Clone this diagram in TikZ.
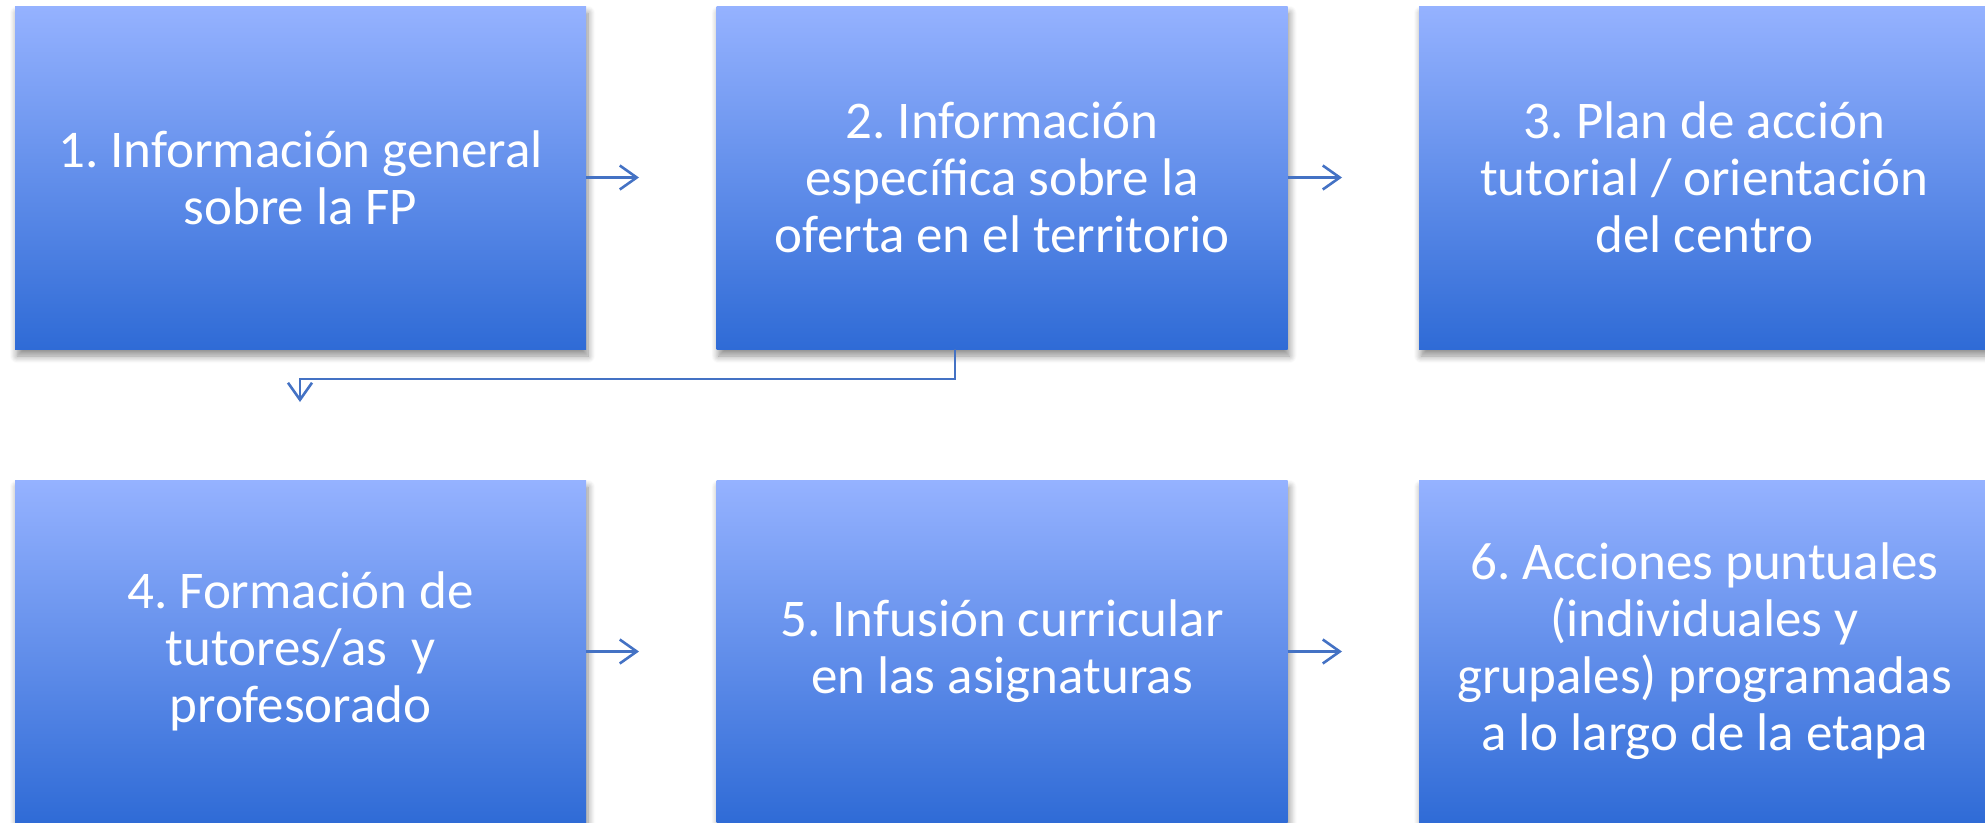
\documentclass[tikz,border=0pt]{standalone}
\usepackage{fontspec}
\setmainfont{Carlito}
\usetikzlibrary{arrows.meta,shadows.blur,calc}
\definecolor{topc}{RGB}{149,178,255}
\definecolor{midc}{RGB}{124,158,241}
\definecolor{botc}{RGB}{47,107,214}
\definecolor{arrc}{RGB}{68,114,196}
\tikzset{
  stepbox/.style={rectangle, inner sep=0pt, minimum width=571pt, minimum height=343pt,
    top color=topc, middle color=midc, bottom color=botc, shading angle=0,
    text=white, align=center, font=\fontsize{53}{57}\selectfont\frenchspacing,
    blur shadow={shadow xshift=2pt, shadow yshift=-7pt, shadow blur radius=7pt, shadow blur steps=8, shadow opacity=45}},
  arr/.style={draw=arrc, line width=2.6pt, -{Straight Barb[length=17pt,width=24pt,line width=2.6pt]}},
}
\begin{document}
\begin{tikzpicture}[x=1pt,y=-1pt]
\useasboundingbox (0,0) rectangle (1985,822);
\clip (0,0) rectangle (1985,822);
\node[stepbox] (b1) at (300.5,177.5) {1. Información general\\sobre la FP};
\node[stepbox] (b2) at (1002,177.5) {2. Información\\específica sobre la\\oferta en el territorio};
\node[stepbox] (b3) at (1704.5,177.5) {3. Plan de acción\\tutorial / orientación\\del centro};
\node[stepbox] (b4) at (300.5,651.5) {4. Formación de\\tutores/as~ y\\profesorado};
\node[stepbox] (b5) at (1002,651.5) {5. Infusión curricular\\en las asignaturas};
\node[stepbox] (b6) at (1704.5,651.5) {6. Acciones puntuales\\(individuales y\\grupales) programadas\\a lo largo de la etapa};
\coordinate (a1) at (639,177.5);
\coordinate (a2) at (1342,177.5);
\coordinate (a3) at (639,651.5);
\coordinate (a4) at (1342,651.5);
\coordinate (k) at (300,379);
\coordinate (e1) at (300,402);
\draw[arr] (b1.east) -- (a1);
\draw[arr] (b2.east) -- (a2);
\draw[arr] (b4.east) -- (a3);
\draw[arr] (b5.east) -- (a4);
\draw[arr] (b2.south -| 955,0) |- (k) -- (e1);
\end{tikzpicture}
\end{document}
